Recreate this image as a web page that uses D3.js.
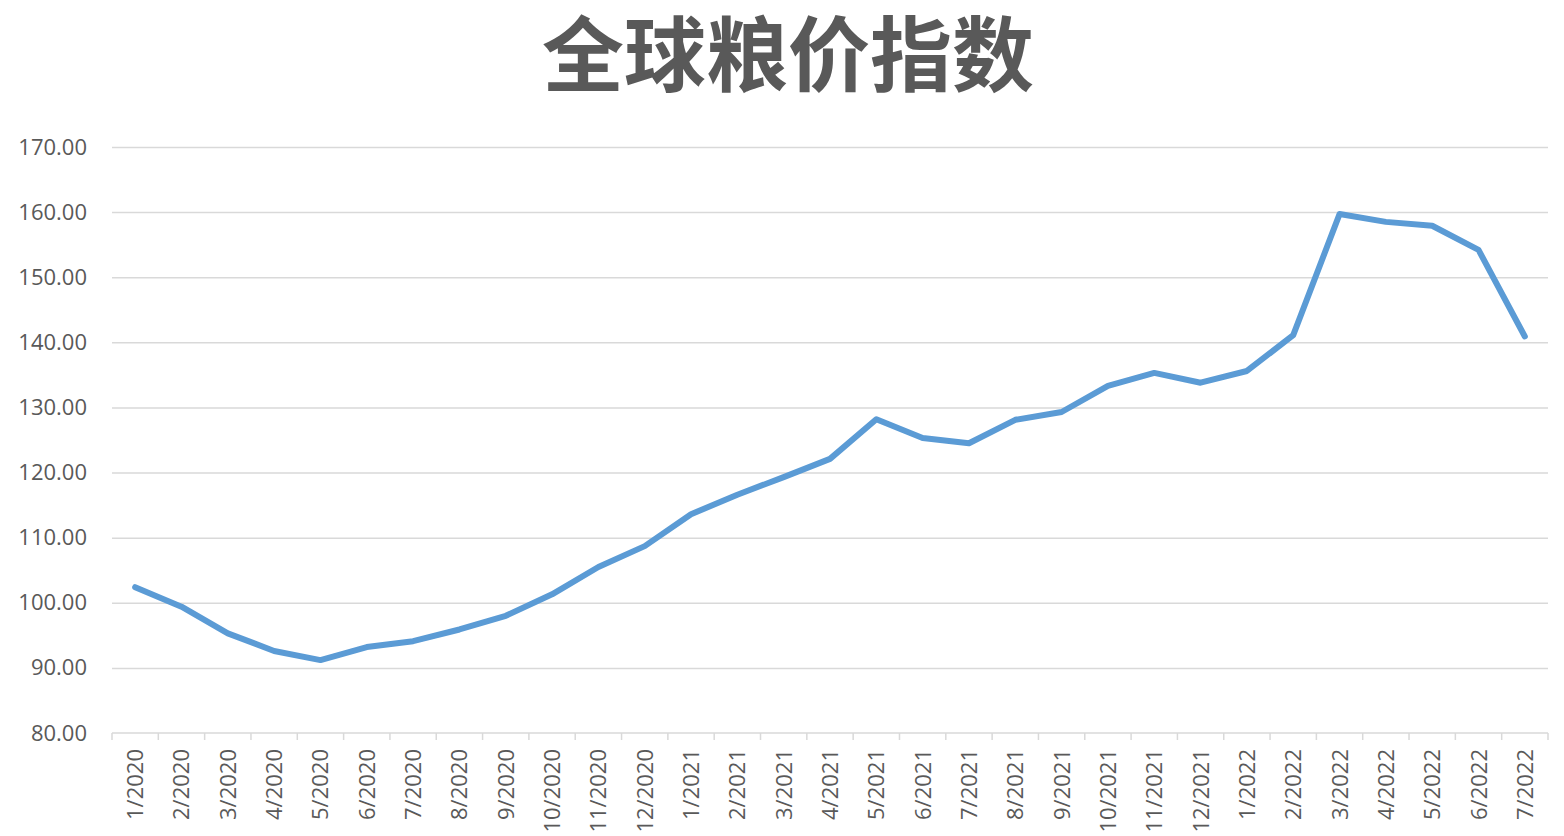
<!DOCTYPE html>
<html><head><meta charset="utf-8">
<script src="https://cdn.jsdelivr.net/npm/d3@7"></script>
<style>html,body{margin:0;padding:0;background:#fff;}</style>
</head><body>
<svg id="c" width="1564" height="836"></svg>
<script>
const title = "全球粮价指数";
const categories = ["1/2020","2/2020","3/2020","4/2020","5/2020","6/2020","7/2020","8/2020","9/2020","10/2020","11/2020","12/2020",
  "1/2021","2/2021","3/2021","4/2021","5/2021","6/2021","7/2021","8/2021","9/2021","10/2021","11/2021","12/2021",
  "1/2022","2/2022","3/2022","4/2022","5/2022","6/2022","7/2022"];
const values = [102.4,99.4,95.3,92.6,91.2,93.2,94.1,95.9,98.0,101.3,105.5,108.7,
  113.6,116.6,119.3,122.1,128.2,125.3,124.5,128.1,129.3,133.3,135.3,133.8,
  135.6,141.1,159.7,158.5,157.9,154.2,140.9];
const yTicks = [80,90,100,110,120,130,140,150,160,170];

const svg = d3.select("#c");
const L = 112, R = 1548, T = 147, B = 733;
const x = d3.scaleBand().domain(categories).range([L, R]).paddingInner(0).paddingOuter(0);
const y = d3.scaleLinear().domain([80,170]).range([B, T]);

svg.append("text").attr("x", 788).attr("y", 85).attr("text-anchor","middle")
  .attr("font-family","'Noto Sans CJK SC'").attr("font-weight","bold").attr("font-size",82)
  .attr("fill","#595959").text(title);

// gridlines
const yAxis = d3.axisLeft(y).tickValues(yTicks).tickSize(-(R-L)).tickFormat(d3.format(".2f"));
const gy = svg.append("g").attr("transform",`translate(${L},0)`).call(yAxis);
gy.select(".domain").remove();
gy.selectAll(".tick line").attr("stroke","#d9d9d9").attr("stroke-width",1.5)
  .filter(d => d===80).remove();
gy.selectAll(".tick text").attr("x",-25).attr("fill","#595959")
  .attr("font-family","'Open Sans', 'DejaVu Sans', sans-serif").attr("font-size",22);

// x axis
const gx = svg.append("g").attr("transform",`translate(0,${B})`);
gx.append("line").attr("x1",L).attr("x2",R).attr("stroke","#d9d9d9").attr("stroke-width",1.5);
const bounds = categories.map(c => x(c)).concat([R]);
gx.selectAll("line.tk").data(bounds).join("line").attr("class","tk")
  .attr("x1",d=>d).attr("x2",d=>d).attr("y1",0).attr("y2",7)
  .attr("stroke","#d9d9d9").attr("stroke-width",1.5);
gx.selectAll("text").data(categories).join("text")
  .attr("transform", d => `translate(${x(d)+x.bandwidth()/2+8},16) rotate(-90)`)
  .attr("text-anchor","end").attr("fill","#595959")
  .attr("font-family","'Open Sans', 'DejaVu Sans', sans-serif").attr("font-size",22)
  .text(d=>d);

// line
const line = d3.line().x((d,i)=>x(categories[i])+x.bandwidth()/2).y(d=>y(d));
svg.append("path").datum(values).attr("d",line).attr("fill","none")
  .attr("stroke","#5b9bd5").attr("stroke-width",6).attr("stroke-linejoin","round").attr("stroke-linecap","round");
</script>
</body></html>
